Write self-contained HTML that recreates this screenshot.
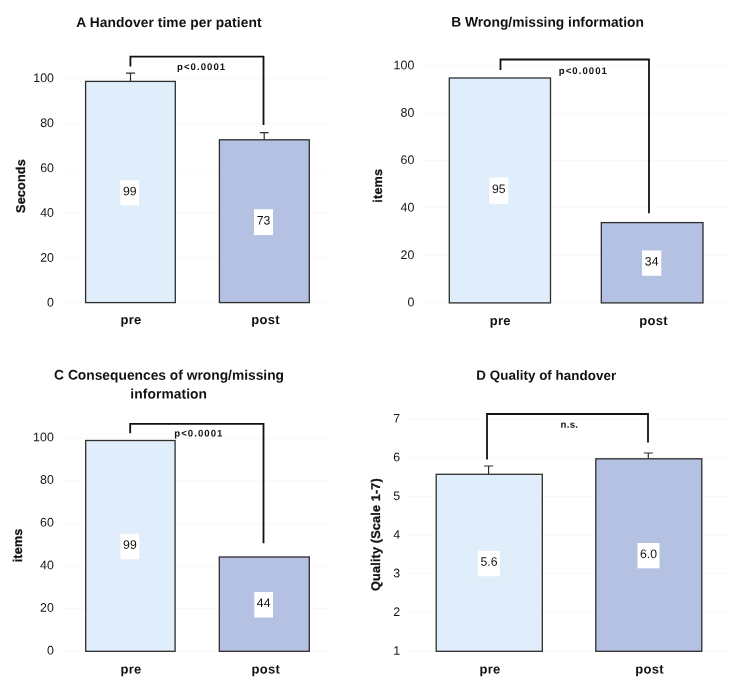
<!DOCTYPE html>
<html><head><meta charset="utf-8"><title>Handover charts</title>
<style>
html,body{margin:0;padding:0;background:#fff;}
svg{display:block;}
text{font-family:"Liberation Sans",Arial,sans-serif;fill:#262626;text-rendering:geometricPrecision;}
.t{font-weight:bold;font-size:14px;fill:#111;}
.k{font-size:12.4px;fill:#151515;}
.x{font-weight:bold;font-size:13px;fill:#111;letter-spacing:0.3px;}
.y{font-weight:bold;font-size:12.7px;fill:#111;stroke:#111;stroke-width:.25px;letter-spacing:.15px;}
.p{font-weight:bold;font-size:9.6px;letter-spacing:1.05px;fill:#111;}
.v{font-size:12.2px;fill:#111;}
</style></head>
<body>
<svg width="740" height="690" viewBox="0 0 740 690">
<rect width="740" height="690" fill="#fff"/>

<g>
<line x1="64.00" y1="78.50" x2="331.00" y2="78.50" stroke="#f8f8f8" stroke-width="1"/>
<text class="k" transform="translate(54.00 82.10) rotate(0.05)" text-anchor="end">100</text>
<line x1="64.00" y1="123.26" x2="331.00" y2="123.26" stroke="#f8f8f8" stroke-width="1"/>
<text class="k" transform="translate(54.00 127.00) rotate(0.05)" text-anchor="end">80</text>
<line x1="64.00" y1="168.02" x2="331.00" y2="168.02" stroke="#f8f8f8" stroke-width="1"/>
<text class="k" transform="translate(54.00 171.90) rotate(0.05)" text-anchor="end">60</text>
<line x1="64.00" y1="212.78" x2="331.00" y2="212.78" stroke="#f8f8f8" stroke-width="1"/>
<text class="k" transform="translate(54.00 216.80) rotate(0.05)" text-anchor="end">40</text>
<line x1="64.00" y1="257.54" x2="331.00" y2="257.54" stroke="#f8f8f8" stroke-width="1"/>
<text class="k" transform="translate(54.00 261.70) rotate(0.05)" text-anchor="end">20</text>
<line x1="64.00" y1="302.30" x2="331.00" y2="302.30" stroke="#f8f8f8" stroke-width="1"/>
<text class="k" transform="translate(54.00 306.60) rotate(0.05)" text-anchor="end">0</text>
<rect x="85.60" y="81.40" width="89.70" height="221.20" fill="#e0edfa" stroke="#2e2e2e" stroke-width="1.3"/>
<rect x="219.40" y="139.80" width="89.90" height="162.80" fill="#b5c1e3" stroke="#2e2e2e" stroke-width="1.3"/>
<path d="M130.50 81.40V73.20M126.00 73.20H135.00" stroke="#2e2e2e" stroke-width="1.2" fill="none"/>
<path d="M264.20 139.80V132.60M259.70 132.60H268.70" stroke="#2e2e2e" stroke-width="1.2" fill="none"/>
<path d="M130.40 66.40V56.60H263.50V125.00" stroke="#111" stroke-width="1.8" fill="none" stroke-linejoin="miter"/>
<text class="p" transform="translate(177.00 70.00) rotate(0.05)">p&lt;0.0001</text>
<text class="y" transform="translate(25.20 186.00) rotate(-90)" text-anchor="middle">Seconds</text>
<rect x="120.30" y="180.30" width="18.90" height="25.10" fill="#fff"/>
<text class="v" transform="translate(129.75 195.15) rotate(0.05)" text-anchor="middle">99</text>
<rect x="254.00" y="209.20" width="19.00" height="25.90" fill="#fff"/>
<text class="v" transform="translate(263.50 224.45) rotate(0.05)" text-anchor="middle">73</text>
<text class="x" transform="translate(131.00 324.10) rotate(0.05)" text-anchor="middle">pre</text>
<text class="x" transform="translate(265.60 324.10) rotate(0.05)" text-anchor="middle">post</text>
<text class="t" transform="translate(76.30 26.90) rotate(0.05)" textLength="185.20" lengthAdjust="spacing" style="font-size:13.80px">A Handover time per patient</text>
</g>
<g>
<line x1="424.00" y1="65.70" x2="728.00" y2="65.70" stroke="#f8f8f8" stroke-width="1"/>
<text class="k" transform="translate(414.30 69.30) rotate(0.05)" text-anchor="end">100</text>
<line x1="424.00" y1="113.08" x2="728.00" y2="113.08" stroke="#f8f8f8" stroke-width="1"/>
<text class="k" transform="translate(414.30 116.70) rotate(0.05)" text-anchor="end">80</text>
<line x1="424.00" y1="160.46" x2="728.00" y2="160.46" stroke="#f8f8f8" stroke-width="1"/>
<text class="k" transform="translate(414.30 164.10) rotate(0.05)" text-anchor="end">60</text>
<line x1="424.00" y1="207.84" x2="728.00" y2="207.84" stroke="#f8f8f8" stroke-width="1"/>
<text class="k" transform="translate(414.30 211.50) rotate(0.05)" text-anchor="end">40</text>
<line x1="424.00" y1="255.22" x2="728.00" y2="255.22" stroke="#f8f8f8" stroke-width="1"/>
<text class="k" transform="translate(414.30 258.90) rotate(0.05)" text-anchor="end">20</text>
<line x1="424.00" y1="302.60" x2="728.00" y2="302.60" stroke="#f8f8f8" stroke-width="1"/>
<text class="k" transform="translate(414.30 306.30) rotate(0.05)" text-anchor="end">0</text>
<rect x="449.30" y="78.00" width="101.20" height="224.90" fill="#e0edfa" stroke="#2e2e2e" stroke-width="1.3"/>
<rect x="601.30" y="222.60" width="101.70" height="80.30" fill="#b5c1e3" stroke="#2e2e2e" stroke-width="1.3"/>
<path d="M500.50 70.00V59.50H649.00V213.30" stroke="#111" stroke-width="1.8" fill="none" stroke-linejoin="miter"/>
<text class="p" transform="translate(558.80 74.00) rotate(0.05)">p&lt;0.0001</text>
<text class="y" transform="translate(382.40 185.70) rotate(-90)" text-anchor="middle">items</text>
<rect x="489.30" y="177.50" width="19.00" height="26.30" fill="#fff"/>
<text class="v" transform="translate(498.80 192.95) rotate(0.05)" text-anchor="middle">95</text>
<rect x="642.00" y="250.50" width="19.30" height="25.30" fill="#fff"/>
<text class="v" transform="translate(651.65 265.45) rotate(0.05)" text-anchor="middle">34</text>
<text class="x" transform="translate(500.30 324.90) rotate(0.05)" text-anchor="middle">pre</text>
<text class="x" transform="translate(653.50 324.90) rotate(0.05)" text-anchor="middle">post</text>
<text class="t" transform="translate(451.20 26.60) rotate(0.05)" textLength="192.70" lengthAdjust="spacing" style="font-size:13.80px">B Wrong/missing information</text>
</g>
<g>
<line x1="64.00" y1="438.30" x2="330.00" y2="438.30" stroke="#f8f8f8" stroke-width="1"/>
<text class="k" transform="translate(53.80 441.20) rotate(0.05)" text-anchor="end">100</text>
<line x1="64.00" y1="480.84" x2="330.00" y2="480.84" stroke="#f8f8f8" stroke-width="1"/>
<text class="k" transform="translate(53.80 483.86) rotate(0.05)" text-anchor="end">80</text>
<line x1="64.00" y1="523.38" x2="330.00" y2="523.38" stroke="#f8f8f8" stroke-width="1"/>
<text class="k" transform="translate(53.80 526.52) rotate(0.05)" text-anchor="end">60</text>
<line x1="64.00" y1="565.92" x2="330.00" y2="565.92" stroke="#f8f8f8" stroke-width="1"/>
<text class="k" transform="translate(53.80 569.18) rotate(0.05)" text-anchor="end">40</text>
<line x1="64.00" y1="608.46" x2="330.00" y2="608.46" stroke="#f8f8f8" stroke-width="1"/>
<text class="k" transform="translate(53.80 611.84) rotate(0.05)" text-anchor="end">20</text>
<line x1="64.00" y1="651.00" x2="330.00" y2="651.00" stroke="#f8f8f8" stroke-width="1"/>
<text class="k" transform="translate(53.80 654.50) rotate(0.05)" text-anchor="end">0</text>
<rect x="85.70" y="440.50" width="89.40" height="210.80" fill="#e0edfa" stroke="#2e2e2e" stroke-width="1.3"/>
<rect x="219.30" y="557.00" width="90.00" height="94.30" fill="#b5c1e3" stroke="#2e2e2e" stroke-width="1.3"/>
<path d="M130.20 433.30V423.80H263.50V543.30" stroke="#111" stroke-width="1.8" fill="none" stroke-linejoin="miter"/>
<text class="p" transform="translate(174.30 436.40) rotate(0.05)">p&lt;0.0001</text>
<text class="y" transform="translate(21.90 545.40) rotate(-90)" text-anchor="middle">items</text>
<rect x="120.50" y="533.80" width="18.80" height="25.50" fill="#fff"/>
<text class="v" transform="translate(129.90 548.85) rotate(0.05)" text-anchor="middle">99</text>
<rect x="254.30" y="592.00" width="18.70" height="25.50" fill="#fff"/>
<text class="v" transform="translate(263.65 607.05) rotate(0.05)" text-anchor="middle">44</text>
<text class="x" transform="translate(131.00 673.50) rotate(0.05)" text-anchor="middle">pre</text>
<text class="x" transform="translate(265.90 673.50) rotate(0.05)" text-anchor="middle">post</text>
<text class="t" transform="translate(54.10 379.60) rotate(0.05)" textLength="229.95" lengthAdjust="spacing" style="font-size:13.80px">C Consequences of wrong/missing</text>
<text class="t" transform="translate(130.35 398.40) rotate(0.05)" textLength="76.70" lengthAdjust="spacing" style="font-size:13.80px">information</text>
</g>
<g>
<line x1="407.50" y1="419.00" x2="728.00" y2="419.00" stroke="#f8f8f8" stroke-width="1"/>
<text class="k" transform="translate(400.20 422.60) rotate(0.05)" text-anchor="end">7</text>
<line x1="407.50" y1="457.67" x2="728.00" y2="457.67" stroke="#f8f8f8" stroke-width="1"/>
<text class="k" transform="translate(400.20 461.28) rotate(0.05)" text-anchor="end">6</text>
<line x1="407.50" y1="496.33" x2="728.00" y2="496.33" stroke="#f8f8f8" stroke-width="1"/>
<text class="k" transform="translate(400.20 499.97) rotate(0.05)" text-anchor="end">5</text>
<line x1="407.50" y1="535.00" x2="728.00" y2="535.00" stroke="#f8f8f8" stroke-width="1"/>
<text class="k" transform="translate(400.20 538.65) rotate(0.05)" text-anchor="end">4</text>
<line x1="407.50" y1="573.67" x2="728.00" y2="573.67" stroke="#f8f8f8" stroke-width="1"/>
<text class="k" transform="translate(400.20 577.33) rotate(0.05)" text-anchor="end">3</text>
<line x1="407.50" y1="612.33" x2="728.00" y2="612.33" stroke="#f8f8f8" stroke-width="1"/>
<text class="k" transform="translate(400.20 616.02) rotate(0.05)" text-anchor="end">2</text>
<line x1="407.50" y1="651.00" x2="728.00" y2="651.00" stroke="#f8f8f8" stroke-width="1"/>
<text class="k" transform="translate(400.20 654.70) rotate(0.05)" text-anchor="end">1</text>
<rect x="436.20" y="474.30" width="106.10" height="177.00" fill="#e0edfa" stroke="#2e2e2e" stroke-width="1.3"/>
<rect x="595.80" y="458.80" width="106.00" height="192.50" fill="#b5c1e3" stroke="#2e2e2e" stroke-width="1.3"/>
<path d="M488.60 474.30V466.00M484.10 466.00H493.10" stroke="#2e2e2e" stroke-width="1.2" fill="none"/>
<path d="M648.30 458.80V453.00M643.80 453.00H652.80" stroke="#2e2e2e" stroke-width="1.2" fill="none"/>
<path d="M487.00 459.50V414.00H648.00V442.50" stroke="#111" stroke-width="1.8" fill="none" stroke-linejoin="miter"/>
<text class="p" transform="translate(560.60 427.80) rotate(0.05)" style="letter-spacing:0.3px">n.s.</text>
<text class="y" transform="translate(380.10 534.50) rotate(-90)" text-anchor="middle">Quality (Scale 1-7)</text>
<rect x="478.00" y="550.80" width="22.00" height="25.50" fill="#fff"/>
<text class="v" transform="translate(489.00 565.85) rotate(0.05)" text-anchor="middle">5.6</text>
<rect x="637.50" y="543.00" width="22.00" height="25.30" fill="#fff"/>
<text class="v" transform="translate(648.50 557.95) rotate(0.05)" text-anchor="middle">6.0</text>
<text class="x" transform="translate(490.00 673.50) rotate(0.05)" text-anchor="middle">pre</text>
<text class="x" transform="translate(649.60 673.50) rotate(0.05)" text-anchor="middle">post</text>
<text class="t" transform="translate(476.30 379.80) rotate(0.05)" textLength="139.80" lengthAdjust="spacing" style="font-size:13.40px">D Quality of handover</text>
</g>
</svg>
</body></html>
